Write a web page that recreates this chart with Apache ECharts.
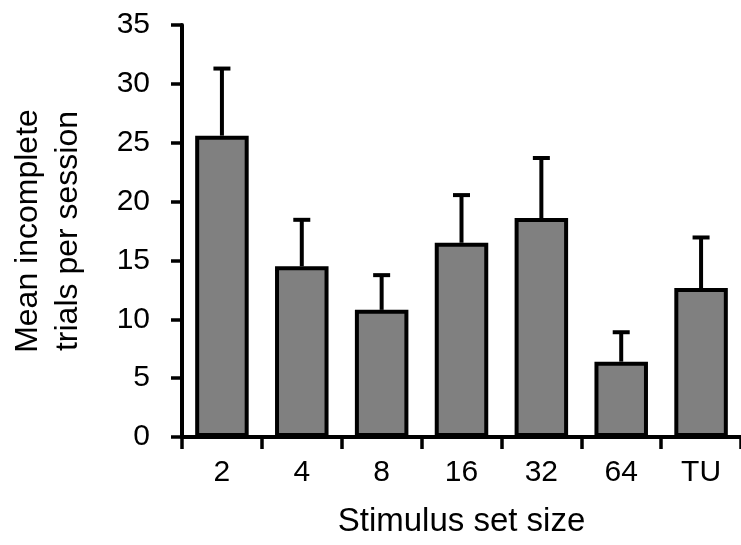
<!DOCTYPE html>
<html>
<head>
<meta charset="utf-8">
<script src="https://cdn.jsdelivr.net/npm/echarts@6/dist/echarts.min.js"></script>
<style>
  html, body { margin: 0; padding: 0; background: #fff; }
  #chart { width: 741px; height: 545px; }
</style>
</head>
<body>
<div id="chart"></div>
<script>
// Stimulus set sizes and mean incomplete trials per session (+ SEM)
const categories = ['2', '4', '8', '16', '32', '64', 'TU'];
const means = [25.6, 14.5, 10.8, 16.5, 18.6, 6.4, 12.65];
const errors = [5.7, 3.95, 2.95, 4.05, 5.1, 2.5, 4.3];
const yTicks = [0, 5, 10, 15, 20, 25, 30, 35];

const FONT = '"Liberation Sans", Arial, sans-serif';
const INK = '#000';

const chart = echarts.init(document.getElementById('chart'), null, { renderer: 'canvas' });

const errorData = means.map((m, i) => [i, m, m + errors[i]]);

chart.setOption({
  animation: false,
  backgroundColor: '#fff',
  grid: { left: 178, top: 25, width: 566, height: 412, containLabel: false },
  xAxis: {
    type: 'category',
    data: categories,
    boundaryGap: true,
    axisLine: { lineStyle: { color: INK, width: 4 } },
    axisTick: { show: true, length: 12, inside: false, lineStyle: { color: INK, width: 3.5 } },
    axisLabel: { color: INK, fontFamily: FONT, fontSize: 30, margin: 21 },
    name: 'Stimulus set size',
    nameLocation: 'middle',
    nameGap: 68,
    nameTextStyle: { color: INK, fontFamily: FONT, fontSize: 33 }
  },
  yAxis: {
    type: 'value',
    min: yTicks[0],
    max: yTicks[yTicks.length - 1],
    interval: 5,
    splitLine: { show: false },
    axisLine: { show: true, lineStyle: { color: INK, width: 4 } },
    axisTick: { show: true, length: 11, inside: false, lineStyle: { color: INK, width: 3.5 } },
    axisLabel: { color: INK, fontFamily: FONT, fontSize: 30, margin: 32 },
    name: 'Mean incomplete\ntrials per session',
    nameLocation: 'middle',
    nameRotate: 90,
    nameGap: 94,
    nameTextStyle: { color: INK, fontFamily: FONT, fontSize: 32, lineHeight: 40, align: 'center' }
  },
  series: [
    {
      type: 'bar',
      data: means,
      barWidth: '67%',
      itemStyle: { color: '#808080', borderColor: INK, borderWidth: 4 },
      z: 2
    },
    {
      type: 'custom',
      data: errorData,
      z: 3,
      renderItem: function (params, api) {
        const idx = api.value(0);
        const low = api.coord([idx, api.value(1)]);
        const high = api.coord([idx, api.value(2)]);
        const half = 8.5;
        const style = { stroke: INK, lineWidth: 4, fill: null };
        return {
          type: 'group',
          children: [
            { type: 'line', shape: { x1: high[0], y1: low[1], x2: high[0], y2: high[1] }, style: style },
            { type: 'line', shape: { x1: high[0] - half, y1: high[1], x2: high[0] + half, y2: high[1] }, style: style }
          ]
        };
      }
    }
  ]
});
</script>
</body>
</html>
